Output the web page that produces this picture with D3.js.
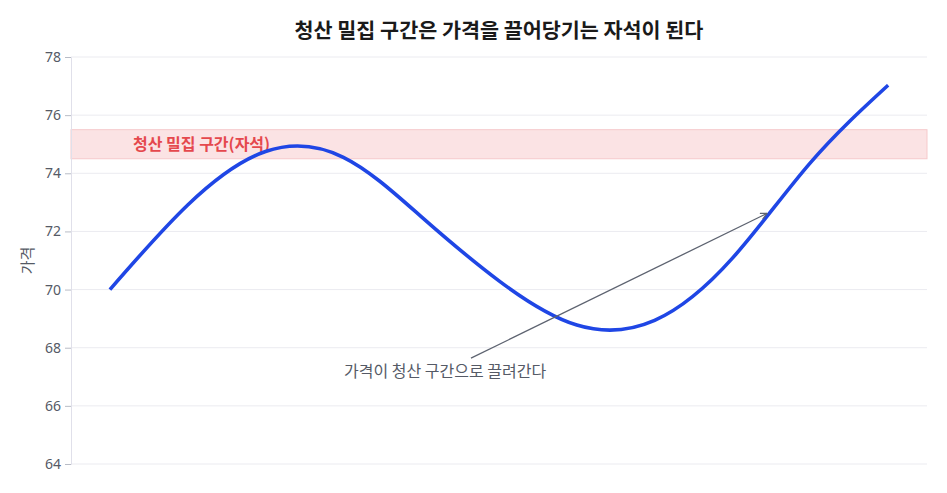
<!DOCTYPE html>
<html><head><meta charset="utf-8">
<script src="https://cdn.jsdelivr.net/npm/d3@7"></script>
<style>
html,body{margin:0;padding:0;background:#fff;}
svg{display:block;font-family:"Noto Sans CJK KR","Noto Sans",sans-serif;}
</style></head>
<body>
<svg id="chart" width="947" height="493"></svg>
<script>
const xValues = [0,10,20,30,40,50,60,70,80,90,100];
const priceValues = [70.0,72.91,74.75,74.55,72.51,70.3,68.78,68.94,71.08,74.36,77.03];
const yTicks = [64,66,68,70,72,74,76,78];
const bandRange = [74.5, 75.5];
const bandLabel = "청산 밀집 구간(자석)";
const titleText = "청산 밀집 구간은 가격을 끌어당기는 자석이 된다";
const yAxisTitle = "가격";
const annotationText = "가격이 청산 구간으로 끌려간다";
const arrowFrom = [46.4, 67.64];
const arrowTo = [84.44, 72.62];

const svg = d3.select("#chart");
const margin = {left:71, right:20, top:57, bottom:29};
const W = 947, H = 493;
const x = d3.scaleLinear().domain([-5,105]).range([margin.left, W - margin.right]);
const y = d3.scaleLinear().domain([64,78]).range([H - margin.bottom, margin.top]);

// grid
svg.append("g").selectAll("line").data(yTicks).join("line")
  .attr("x1", margin.left).attr("x2", W - margin.right)
  .attr("y1", d=>y(d)).attr("y2", d=>y(d))
  .attr("stroke", "#ebebf0").attr("stroke-width", 1);

// band
svg.append("rect")
  .attr("x", margin.left).attr("width", W - margin.right - margin.left)
  .attr("y", y(bandRange[1])).attr("height", y(bandRange[0]) - y(bandRange[1]))
  .attr("fill", "#fbe3e4").attr("stroke", "#f6c9cb").attr("stroke-width", 1);

svg.append("text")
  .attr("x", 133).attr("y", y((bandRange[0]+bandRange[1])/2) + 6)
  .attr("fill", "#e5484d").attr("font-size", 16).attr("font-weight", 700)
  .text(bandLabel);

// y axis
const yAxis = d3.axisLeft(y).tickValues(yTicks).tickSize(6).tickPadding(4).tickFormat(d3.format("d"));
const gy = svg.append("g").attr("transform", `translate(${margin.left},0)`).call(yAxis);
gy.select(".domain").attr("stroke", "#e0e0ea");
gy.selectAll(".tick line").attr("stroke", "#b8bcc6");
gy.selectAll(".tick text").attr("fill", "#555a66").attr("font-size", 14)
  .attr("font-family", "'Noto Sans','Noto Sans CJK KR',sans-serif");

svg.append("text")
  .attr("transform", `translate(33,${(margin.top + H - margin.bottom)/2}) rotate(-90)`)
  .attr("text-anchor", "middle").attr("fill", "#555a66").attr("font-size", 15)
  .text(yAxisTitle);

// line
const line = d3.line().x((d,i)=>x(xValues[i])).y(d=>y(d)).curve(d3.curveNatural);
svg.append("path").datum(priceValues)
  .attr("d", line).attr("fill", "none")
  .attr("stroke", "#1f46e5").attr("stroke-width", 3.6).attr("stroke-linecap", "butt");

// arrow
svg.append("defs").append("marker")
  .attr("id", "arr").attr("viewBox", "0 0 10 10").attr("refX", 9).attr("refY", 5)
  .attr("markerWidth", 8).attr("markerHeight", 8).attr("markerUnits", "userSpaceOnUse")
  .attr("orient", "auto")
  .append("path").attr("d", "M1,1 L9,5 L1,9").attr("fill", "none")
  .attr("stroke", "#5d6370").attr("stroke-width", 1.4);

svg.append("line")
  .attr("x1", x(arrowFrom[0])).attr("y1", y(arrowFrom[1]))
  .attr("x2", x(arrowTo[0])).attr("y2", y(arrowTo[1]))
  .attr("stroke", "#5d6370").attr("stroke-width", 1.3)
  .attr("marker-end", "url(#arr)");

svg.append("text")
  .attr("x", 344).attr("y", 377)
  .attr("fill", "#555a66").attr("font-size", 16)
  .text(annotationText);

// title
svg.append("text")
  .attr("x", (margin.left + W - margin.right)/2).attr("y", 38)
  .attr("text-anchor", "middle").attr("fill", "#1a1a1a")
  .attr("font-size", 20.7).attr("font-weight", 700)
  .text(titleText);
</script>
</body></html>
